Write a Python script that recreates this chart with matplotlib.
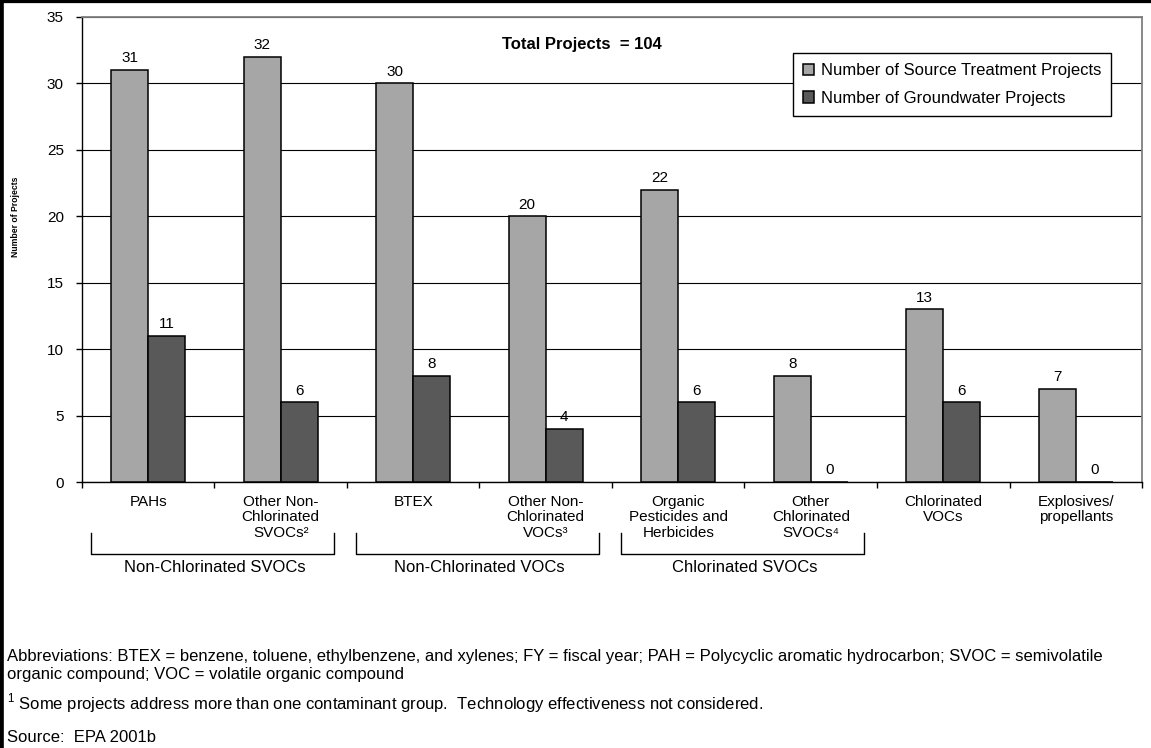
import numpy as np
import matplotlib
matplotlib.use("Agg")
import matplotlib.pyplot as plt
from matplotlib.lines import Line2D

plt.rcParams['font.family'] = ['Liberation Sans', 'DejaVu Sans']
plt.rcParams['mathtext.fontset'] = 'custom'
plt.rcParams['mathtext.rm'] = 'Liberation Sans'

# data
categories = ['PAHs', 'Other Non-\nChlorinated\nSVOCs\u00b2', 'BTEX',
              'Other Non-\nChlorinated\nVOCs\u00b3', 'Organic\nPesticides and\nHerbicides',
              'Other\nChlorinated\nSVOCs\u2074', 'Chlorinated\nVOCs', 'Explosives/\npropellants']
source_projects = [31, 32, 30, 20, 22, 8, 13, 7]
groundwater_projects = [11, 6, 8, 4, 6, 0, 6, 0]
groups = ['Non-Chlorinated SVOCs', 'Non-Chlorinated VOCs', 'Chlorinated SVOCs']
group_spans = [(0, 1), (2, 3), (4, 5)]

fig = plt.figure(figsize=(11.51, 7.48), dpi=100)
ax = fig.add_axes([0.0712, 0.3556, 0.9210, 0.6217])

x = np.arange(len(categories))
w = 0.28
light = '#a6a6a6'
dark = '#595959'
ax.bar(x - w / 2, source_projects, w, color=light, edgecolor='black', linewidth=1.1,
       label='Number of Source Treatment Projects', zorder=3)
ax.bar(x + w / 2, groundwater_projects, w, color=dark, edgecolor='black', linewidth=1.1,
       label='Number of Groundwater Projects', zorder=3)
for xi, v in zip(x, source_projects):
    ax.text(xi - w / 2, v + 0.35, str(v), ha='center', va='bottom', fontsize=11)
for xi, v in zip(x, groundwater_projects):
    ax.text(xi + w / 2, v + 0.35, str(v), ha='center', va='bottom', fontsize=11)

ax.set_xlim(-0.5, len(categories) - 0.5)
ax.set_ylim(0, 35)
ax.set_yticks(range(0, 36, 5))
ax.yaxis.grid(True, color='black', linewidth=0.8, zorder=0)
ax.set_axisbelow(True)
ax.set_xticks(np.arange(-0.5, len(categories), 1))
ax.set_xticklabels([])
ax.tick_params(axis='both', direction='out', length=4.5, width=1, labelsize=11)
ax.tick_params(axis='y', pad=8.5)
for s in ['left', 'bottom']:
    ax.spines[s].set_color('black')
    ax.spines[s].set_linewidth(1)
for s in ['top', 'right']:
    ax.spines[s].set_color('#808080')
    ax.spines[s].set_linewidth(1.3)

# category labels
for xi, lab in zip(x, categories):
    ax.text(xi, -0.95, lab, ha='center', va='top', fontsize=11, linespacing=1.15)

# group brackets
ytop, ybot = -3.8, -5.45
for (a, b), g in zip(group_spans, groups):
    x0, x1 = a - 0.43, b + 0.405
    ax.plot([x0, x0, x1, x1], [ytop, ybot, ybot, ytop], color='black', linewidth=1.0,
            clip_on=False)
    ax.text((a + b) / 2, ybot - 0.45, g, ha='center', va='top', fontsize=12)

ax.set_ylabel('Number of Projects', fontsize=6.2, fontweight='bold')
ax.yaxis.set_label_coords(-0.058, 0.57)
ax.text(0.472, 0.94, 'Total Projects  = 104', transform=ax.transAxes, ha='center',
        va='center', fontsize=12, fontweight='bold')

leg = ax.legend(loc='upper right', bbox_to_anchor=(0.971, 0.922), borderaxespad=0,
                fontsize=12, frameon=True, fancybox=False, edgecolor='black',
                handlelength=0.7, handleheight=0.7, handletextpad=0.4, borderpad=0.6,
                labelspacing=0.75)
leg.get_frame().set_linewidth(1.0)
leg.get_frame().set_alpha(1)

# notes
fs_note = 12
fig.text(0.006, 1 - 656 / 748, 'Abbreviations: BTEX = benzene, toluene, ethylbenzene, and xylenes; '
         'FY = fiscal year; PAH = Polycyclic aromatic hydrocarbon; SVOC = semivolatile',
         fontsize=fs_note, va='center')
fig.text(0.006, 1 - 674 / 748, 'organic compound; VOC = volatile organic compound',
         fontsize=fs_note, va='center')
fig.text(0.006, 1 - 703 / 748, '$^1$ Some projects address more than one contaminant group.  '
         'Technology effectiveness not considered.', fontsize=fs_note, va='center')
fig.text(0.006, 1 - 737 / 748, 'Source:  EPA 2001b', fontsize=fs_note, va='center')

# border top and left
fig.add_artist(Line2D([0, 0], [0, 1], transform=fig.transFigure, color='black', linewidth=5.5))
fig.add_artist(Line2D([0, 1], [1, 1], transform=fig.transFigure, color='black', linewidth=4.5))

fig.savefig('out.png', dpi=100)
